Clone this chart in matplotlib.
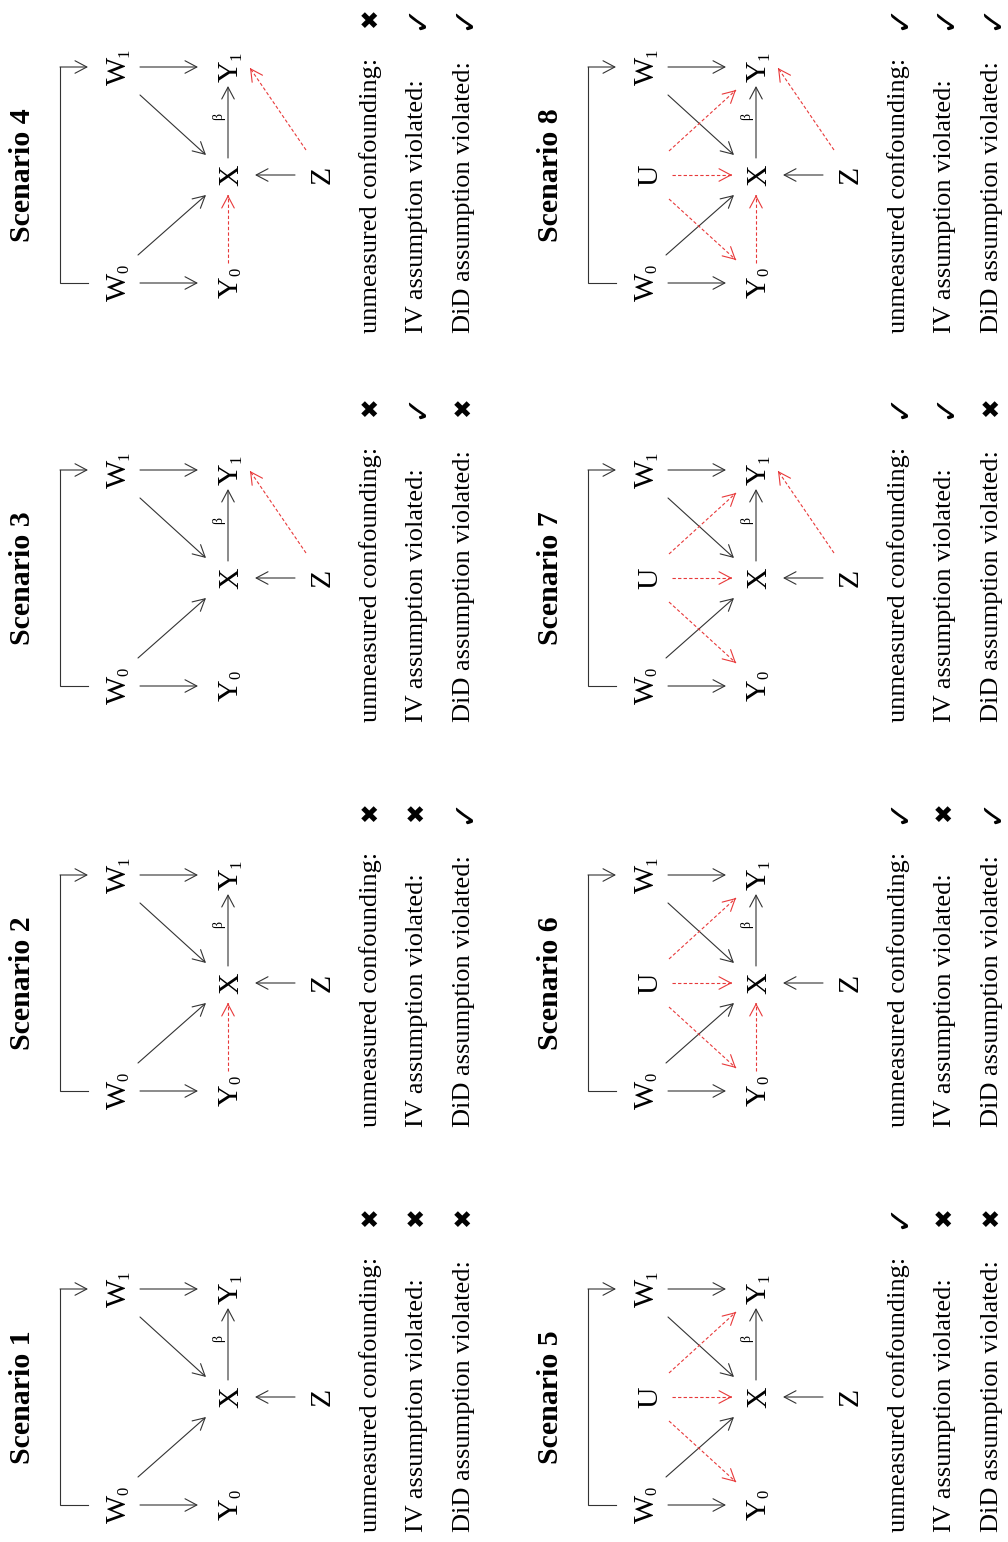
import matplotlib
matplotlib.use('Agg')
import matplotlib.pyplot as plt
from matplotlib.patches import FancyArrowPatch

plt.rcParams['font.family'] = ['Liberation Serif', 'DejaVu Sans']

# ── dados dos cenarios ─────────────────────────────────────────────────────
scenarios  = [f"Scenario {i}" for i in range(1, 9)]
has_u      = [0, 0, 0, 0, 1, 1, 1, 1]   # U -> Y0, X, Y1
y0_to_x    = [0, 1, 0, 1, 0, 1, 0, 1]   # Y0 -> X
z_to_y1    = [0, 0, 1, 1, 0, 0, 1, 1]   # Z -> Y1
unmeasured = ["✖", "✖", "✖", "✖", "✓", "✓", "✓", "✓"]
iv_viol    = ["✖", "✖", "✓", "✓", "✖", "✖", "✓", "✓"]
did_viol   = ["✖", "✓", "✖", "✓", "✖", "✓", "✖", "✓"]
row_labels = ["unmeasured confounding:", "IV assumption violated:",
              "DiD assumption violated:"]

# ── layout (pixels, figura girada 90 graus) ────────────────────────────────
W_PX, H_PX = 1008, 1542
COL_X  = [228, 756]                # centro do X em cada coluna
ROW_Y  = [1397, 983, 578, 175]     # cenario 1..4 (ou 5..8)
TEXT_Y = [1532, 1127, 722, 333]    # inicio do texto de cada linha
MARK_GAP = 316
BLACK, RED = "#333333", "#e8393a"
HEAD = "->,head_length=0.85,head_width=0.45"
FS_NODE, FS_SUB, FS_TXT = 21.5, 12, 19
PX = 100 / 72                      # px por ponto
ADV = {"W": 0.944, "Y": 0.722, "X": 0.722, "Z": 0.611, "U": 0.722}

NODES = {"X": (0, 0), "W0": (-112, 108), "W1": (-112, -108),
         "Y0": (0, 108), "Y1": (0, -108), "Z": (92, 0), "U": (-109, 0)}

BLACK_EDGES = [((-88, 108), (-30, 108)),     # W0 -> Y0
               ((-88, -108), (-30, -108)),   # W1 -> Y1
               ((-90, 80), (-22, 20)),       # W0 -> X
               ((-88, -80), (-22, -20)),     # W1 -> X
               ((0, -17), (0, -89)),         # X -> Y1
               ((67, 0), (27, 0))]           # Z -> X
U_EDGES = [((-87, 24), (-20, 85)), ((-84, 0), (-24, 0)), ((-87, -24), (-20, -85))]
Y0X_EDGE = ((0, 88), (0, 20))
ZY1_EDGE = ((78, -25), (22, -107))
LINE_DX = [143, 189, 236]

fig = plt.figure(figsize=(W_PX / 100, H_PX / 100), dpi=100)
ax = fig.add_axes([0, 0, 1, 1])
ax.set_xlim(0, W_PX)
ax.set_ylim(H_PX, 0)
ax.axis('off')


def arrow(cx, cy, p0, p1, red=False):
    x0, y0 = cx + p0[0], cy + p0[1]
    x1, y1 = cx + p1[0], cy + p1[1]
    if red:
        ax.plot([x0, x1], [y0, y1], color=RED, lw=0.8, ls=(0, (3, 2)))
        d = ((x1 - x0) ** 2 + (y1 - y0) ** 2) ** 0.5
        xa, ya = x1 - (x1 - x0) / d, y1 - (y1 - y0) / d
        ax.add_patch(FancyArrowPatch((xa, ya), (x1, y1), arrowstyle=HEAD,
                                     mutation_scale=10, lw=0.8, color=RED,
                                     shrinkA=0, shrinkB=0))
    else:
        ax.add_patch(FancyArrowPatch((x0, y0), (x1, y1), arrowstyle=HEAD,
                                     mutation_scale=10, lw=0.8, color=BLACK,
                                     shrinkA=0, shrinkB=0))


def node(cx, cy, key):
    nx, ny = cx + NODES[key][0], cy + NODES[key][1]
    letter, sub = key[0], key[1:]
    kw = dict(rotation=90, rotation_mode='anchor', va='baseline')
    if not sub:
        ax.text(nx + 10, ny, letter, ha='center', fontsize=FS_NODE, **kw)
        return
    w_main = ADV[letter] * FS_NODE * PX
    w_sub = 0.5 * FS_SUB * PX
    b = ny + (w_main + w_sub) / 2 - w_main
    ax.text(nx + 10, b, letter, ha='right', fontsize=FS_NODE, **kw)
    ax.text(nx + 12, b, sub, ha='left', fontsize=FS_SUB, **kw)


for i, name in enumerate(scenarios):
    cx, cy = COL_X[i // 4], ROW_Y[i % 4]
    ty = TEXT_Y[i % 4]

    ax.text(cx - 205, cy, name, rotation=90, rotation_mode='anchor',
            ha='center', va='center', fontsize=21.5, fontweight='bold')

    keys = ["W0", "W1", "Y0", "Y1", "X", "Z"] + (["U"] if has_u[i] else [])
    for k in keys:
        node(cx, cy, k)

    # colchete W0 -> W1
    ax.plot([cx - 140, cx - 168, cx - 168], [cy + 108, cy + 108, cy - 108],
            color=BLACK, lw=0.8, solid_joinstyle='miter')
    arrow(cx, cy, (-168, -108), (-140, -108))

    for p0, p1 in BLACK_EDGES:
        arrow(cx, cy, p0, p1)
    ax.text(cx - 6, cy - 58, "β", rotation=90, rotation_mode='anchor',
            ha='center', va='baseline', fontsize=10)

    if has_u[i]:
        for p0, p1 in U_EDGES:
            arrow(cx, cy, p0, p1, red=True)
    if y0_to_x[i]:
        arrow(cx, cy, *Y0X_EDGE, red=True)
    if z_to_y1[i]:
        arrow(cx, cy, *ZY1_EDGE, red=True)

    marks = [unmeasured[i], iv_viol[i], did_viol[i]]
    for k, lbl in enumerate(row_labels):
        ax.text(cx + LINE_DX[k], ty, lbl, rotation=90, rotation_mode='anchor',
                ha='left', va='center', fontsize=FS_TXT)
        ax.text(cx + LINE_DX[k], ty - MARK_GAP, marks[k], rotation=90,
                rotation_mode='anchor', ha='center', va='center',
                fontsize=17 if marks[k] == "✖" else 23, family='DejaVu Sans')

plt.savefig("out.png", dpi=100, facecolor='white')
plt.close()
